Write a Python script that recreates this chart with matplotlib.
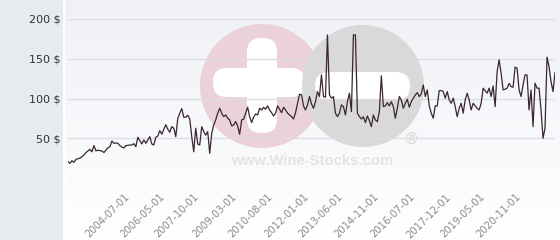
import numpy as np
import matplotlib.pyplot as plt
from matplotlib.patches import Circle, FancyBboxPatch

# price history (USD), one value per point on a category axis
seg_a = [20.5, 18.5, 21.8, 19.7, 23.5, 24.2, 25, 26.8, 29, 32,
         34, 36, 33, 40.7, 34, 35, 34.4, 34, 32, 35,
         38, 39.4, 46.6, 43.6, 44, 43.6, 40.7, 39, 37.8, 40.7,
         41, 41.5, 41.5, 43.2, 39.4, 51.2, 47, 42.8, 47.9, 43.7,
         47.9, 52, 42.8, 41.5, 51.2, 52.9, 59.6, 55, 61.3, 67,
         61.3, 57.5, 64.6, 62.6, 52, 75, 81.5, 87.3, 76.4, 76.4,
         79, 74.3]
seg_b = [52, 33, 62.6, 42.8, 41.5, 64.6, 58.3, 54, 58.3, 31,
         56, 66.8, 73, 81.5, 87.7, 81.5, 77.2, 79.3, 75.2, 73,
         65.5, 66.8, 71, 65.5, 55, 73, 74, 81.5, 89, 77.2,
         69.7, 76.4, 80.6, 79.3, 87.7, 85.6, 89, 86.5, 90.7, 85.6,
         82.2, 78, 81.5, 90.7, 86.5, 82.2, 89, 85.6, 81.5, 79.3,
         77.2, 74.3, 82.2, 94, 105.4, 104.5, 90.7, 85.6, 92, 102.4,
         93.2, 87.7, 96, 108.7, 102.4, 129.7, 102.4, 101.6, 180, 104.5,
         100.4, 102.4, 81.5, 77.2, 81.5, 92, 89.8, 79.3, 96, 106.7,
         83.5, 180, 180, 81.5]
seg_c = [77.2, 74.3, 77, 69.7, 78, 72, 64.6, 79.3, 73, 71,
         83.5, 128.5, 89.8, 90.7, 94.8, 90.7, 96, 89.8, 75.2, 87.7,
         102.4, 98.2, 87.7, 94, 99, 89, 96, 100.4, 104.5, 107.4,
         102.4, 105.8, 117, 102.4, 110.8, 90.7, 81.5, 75.2, 90.7, 90.7,
         110, 110, 108.7, 100.4, 108.7, 98.2, 94, 100.4, 89.8, 77.2,
         87.7, 94, 81.5, 98.2, 106.7, 98.2, 85.6, 94, 90.7, 87.7,
         85.6, 94, 113, 110, 106.7, 113, 102.4, 115.9, 89.8, 133.9,
         148.6, 131.9, 110.8, 111.7, 113, 119, 115, 114.2, 139.4, 138.2,
         110.8, 102.4, 117.1, 129.7, 129.7, 85.6, 110.8, 64.6, 119.3, 113,
         113, 85.6, 50, 62.6, 152, 140.2, 121.3, 108.7, 132.6]
prices = seg_a + seg_b + seg_c

tick_pos = [28, 46, 63, 82, 100, 118, 135, 153, 171, 189, 206, 224]
tick_labels = ['2004-07-01', '2006-05-01', '2007-10-01', '2009-03-01',
               '2010-08-01', '2012-01-01', '2013-06-01', '2014-11-01',
               '2016-07-01', '2017-12-01', '2019-05-01', '2020-11-01']
y_ticks = [0, 50, 100, 150, 200]
y_labels = ['', '50 $', '100 $', '150 $', '200 $']

W, H = 560, 240
fig = plt.figure(figsize=(W / 100, H / 100), dpi=100)
fig.patch.set_facecolor('#e7ebee')

# chart background: light gradient, white at the bottom
bg = fig.add_axes([64 / W, 0, (W - 64) / W, 1], zorder=0)
top = np.array([0.937, 0.945, 0.965])
frac = np.linspace(0, 1, 256)[:, None, None]
bg.imshow(top + (1 - top) * frac, aspect='auto', extent=[0, 1, 0, 1])
bg.axis('off')

# watermark logo
wm = fig.add_axes([0, 0, 1, 1], zorder=1)
wm.set_xlim(0, W)
wm.set_ylim(H, 0)
wm.axis('off')
wm.add_patch(Circle((262, 86), 62, color='#ebd2d9', lw=0))
wm.add_patch(FancyBboxPatch((247, 38), 30, 95, boxstyle='round,pad=0,rounding_size=14',
                            color='white', lw=0))
wm.add_patch(FancyBboxPatch((213, 68), 92, 29, boxstyle='round,pad=0,rounding_size=14',
                            color='white', lw=0))
wm.add_patch(Circle((363, 86), 61, color='#d9d9d9', lw=0))
wm.add_patch(FancyBboxPatch((315, 72), 95, 28, boxstyle='round,pad=0,rounding_size=14',
                            color='white', lw=0))
wm.text(312, 161, 'www.Wine-Stocks.com', ha='center', va='center', fontsize=10.7,
        fontweight='bold', family='Liberation Sans', color='#e3e3e3')
wm.text(412, 139, '®', ha='center', va='center', fontsize=11, color='#d6d6d6')
wm.plot([63.5, 63.5], [0, H], color='white', lw=1.5)

ax = fig.add_axes([68 / W, 62 / H, 487 / W, 159 / H], zorder=2)
ax.patch.set_alpha(0)
ax.plot(range(len(prices)), prices, color='#3a2630', lw=0.9, zorder=3)
ax.set_xlim(0, len(prices) - 1)
ax.set_ylim(0, 200)
for s in ax.spines.values():
    s.set_visible(False)
ax.set_yticks(y_ticks)
ax.set_yticklabels(y_labels, fontsize=8, color='#333333')
ax.grid(axis='y', color='#dcdde3', lw=1)
ax.set_axisbelow(True)
ax.set_xticks(tick_pos)
ax.set_xticklabels(tick_labels, rotation=45, ha='right', va='top',
                   rotation_mode='anchor', fontsize=7.2, color='#8a8a8a')
ax.tick_params(axis='both', length=0)
ax.tick_params(axis='y', pad=5.5)
ax.tick_params(axis='x', pad=10)

plt.savefig('out.png', dpi=100)
